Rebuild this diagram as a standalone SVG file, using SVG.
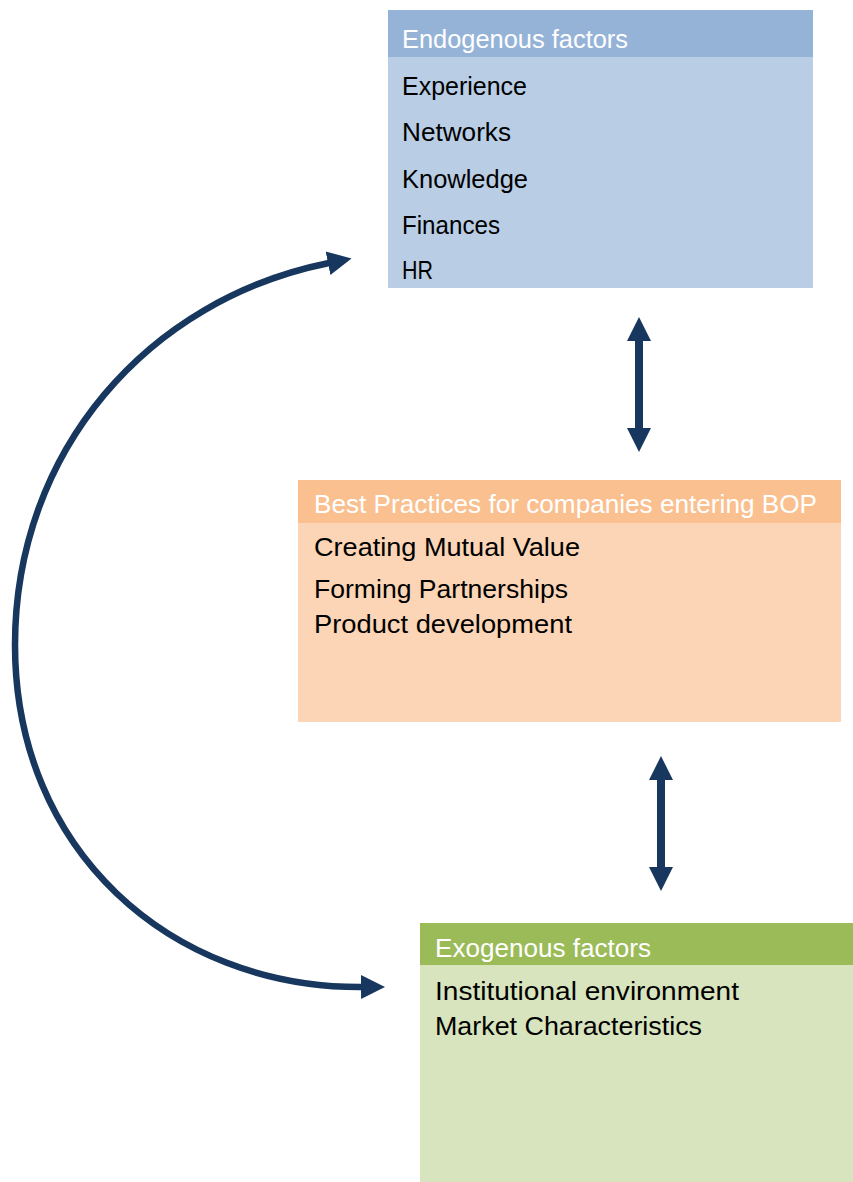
<svg xmlns="http://www.w3.org/2000/svg" width="853" height="1182" viewBox="0 0 853 1182">
<style>
  text { font-family: "Liberation Sans", Arial, sans-serif; font-size: 26px; }
  .hd { fill: #FFFFFF; }
  .it { fill: #000000; }
  .conn { fill: none; stroke: #17375E; }
</style>
<defs>
  <marker id="head" markerUnits="userSpaceOnUse" markerWidth="26" markerHeight="26" viewBox="0 -13 26 26" refX="1" refY="0" orient="auto-start-reverse">
    <path d="M0,-12 L24,0 L0,12 Z" fill="#17375E"/>
  </marker>
</defs>
<rect width="853" height="1182" fill="#FFFFFF"/>

<g id="endogenous">
  <rect x="388" y="10" width="425" height="278" fill="#B9CDE5"/>
  <rect x="388" y="10" width="425" height="47" fill="#95B3D7"/>
  <text class="hd" x="402" y="48" textLength="226" lengthAdjust="spacingAndGlyphs">Endogenous factors</text>
  <text class="it" x="402" y="95" textLength="125" lengthAdjust="spacingAndGlyphs">Experience</text>
  <text class="it" x="402" y="141" textLength="109" lengthAdjust="spacingAndGlyphs">Networks</text>
  <text class="it" x="402" y="188" textLength="126" lengthAdjust="spacingAndGlyphs">Knowledge</text>
  <text class="it" x="402" y="234" textLength="98" lengthAdjust="spacingAndGlyphs">Finances</text>
  <text class="it" x="402" y="279" textLength="31" lengthAdjust="spacingAndGlyphs">HR</text>
</g>

<g id="bestpractices">
  <rect x="298" y="480" width="543" height="242" fill="#FBD5B5"/>
  <rect x="298" y="480" width="543" height="43" fill="#FAC090"/>
  <text class="hd" x="314" y="513" textLength="503" lengthAdjust="spacingAndGlyphs">Best Practices for companies entering BOP</text>
  <text class="it" x="314" y="556" textLength="266" lengthAdjust="spacingAndGlyphs">Creating Mutual Value</text>
  <text class="it" x="314" y="598" textLength="254" lengthAdjust="spacingAndGlyphs">Forming Partnerships</text>
  <text class="it" x="314" y="633" textLength="258" lengthAdjust="spacingAndGlyphs">Product development</text>
</g>

<g id="exogenous">
  <rect x="420" y="923" width="433" height="259" fill="#D7E4BD"/>
  <rect x="420" y="923" width="433" height="42" fill="#9BBB59"/>
  <text class="hd" x="435" y="957" textLength="216" lengthAdjust="spacingAndGlyphs">Exogenous factors</text>
  <text class="it" x="435" y="1000" textLength="304" lengthAdjust="spacingAndGlyphs">Institutional environment</text>
  <text class="it" x="435" y="1035" textLength="267" lengthAdjust="spacingAndGlyphs">Market Characteristics</text>
</g>

<g id="connectors">
  <path class="conn" stroke-width="6.5" d="M 329 263 C 149 299, 15 450, 15 645 C 15 850, 170 988, 362 987" marker-start="url(#head)" marker-end="url(#head)"/>
  <line class="conn" stroke-width="8" x1="639" y1="340" x2="639" y2="429" marker-start="url(#head)" marker-end="url(#head)"/>
  <line class="conn" stroke-width="8" x1="661" y1="779" x2="661" y2="868" marker-start="url(#head)" marker-end="url(#head)"/>
</g>
</svg>
